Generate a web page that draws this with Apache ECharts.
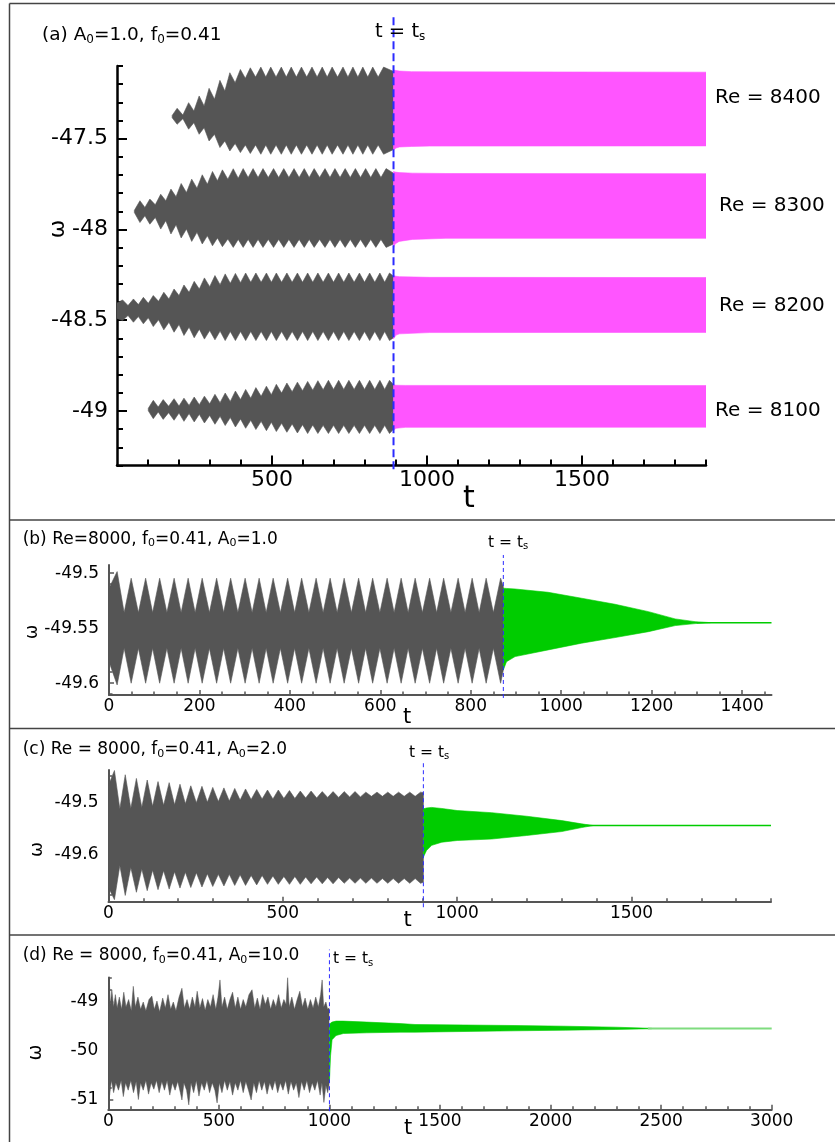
<!DOCTYPE html>
<html><head><meta charset="utf-8">
<script src="https://cdn.jsdelivr.net/npm/echarts@6.0.0/dist/echarts.min.js"></script>
<style>html,body{margin:0;padding:0;background:#fff}#c{width:835px;height:1142px}</style>
</head><body><div id="c"></div>
<script>
// ---------------- DATA ----------------
const tsA = 892, tsB = 872, tsC = 903, tsD = 1000;
const reLabels = ['Re = 8400', 'Re = 8300', 'Re = 8200', 'Re = 8100'];

// lobe rows: [tip time, tip upper, tip lower, following waist upper, following waist lower]
const start8400 = [178, -47.372, -47.385];
const lobes8400 = [
[194,-47.333,-47.421,-47.370,-47.390],[231,-47.302,-47.448,-47.348,-47.412],[265,-47.265,-47.476,-47.320,-47.440],
[297,-47.223,-47.513,-47.283,-47.476],[332,-47.179,-47.549,-47.238,-47.513],[364,-47.137,-47.568,-47.192,-47.527],
[398,-47.119,-47.577,-47.168,-47.535],[430,-47.110,-47.582,-47.161,-47.535],[464,-47.106,-47.586,-47.161,-47.535],
[496,-47.106,-47.586,-47.161,-47.535],[530,-47.106,-47.586,-47.161,-47.535],[562,-47.106,-47.586,-47.161,-47.535],
[595,-47.106,-47.586,-47.161,-47.535],[629,-47.106,-47.586,-47.161,-47.535],[662,-47.106,-47.586,-47.161,-47.535],
[694,-47.106,-47.586,-47.161,-47.535],[729,-47.106,-47.586,-47.161,-47.535],[761,-47.106,-47.586,-47.161,-47.535],
[793,-47.106,-47.586,-47.161,-47.535],[825,-47.106,-47.586,-47.161,-47.535],[860,-47.106,-47.586,-47.130,-47.560]];
const start8300 = [56, -47.895, -47.907];
const lobes8300 = [
[74,-47.842,-47.962,-47.879,-47.925],[106,-47.833,-47.971,-47.864,-47.934],[141,-47.806,-47.998,-47.842,-47.952],
[174,-47.778,-48.025,-47.820,-47.974],[207,-47.747,-48.047,-47.797,-47.998],[241,-47.723,-48.066,-47.773,-48.016],
[275,-47.699,-48.080,-47.751,-48.035],[308,-47.681,-48.090,-47.732,-48.047],[340,-47.672,-48.095,-47.723,-48.053],
[375,-47.666,-48.099,-47.718,-48.055],[407,-47.665,-48.099,-47.714,-48.055],[439,-47.665,-48.099,-47.714,-48.055],
[471,-47.665,-48.099,-47.714,-48.055],[505,-47.665,-48.099,-47.714,-48.055],[538,-47.665,-48.099,-47.714,-48.055],
[571,-47.665,-48.099,-47.714,-48.055],[604,-47.665,-48.099,-47.714,-48.055],[636,-47.665,-48.099,-47.714,-48.055],
[671,-47.665,-48.099,-47.714,-48.055],[703,-47.665,-48.099,-47.714,-48.055],[736,-47.665,-48.099,-47.714,-48.055],
[769,-47.665,-48.099,-47.714,-48.055],[802,-47.665,-48.099,-47.714,-48.055],[835,-47.665,-48.099,-47.714,-48.055],
[868,-47.665,-48.099,-47.690,-48.080]];
const start8200 = [0, -48.405, -48.490];
const lobes8200 = [
[18,-48.388,-48.502,-48.419,-48.474],[53,-48.383,-48.511,-48.414,-48.480],[85,-48.374,-48.520,-48.407,-48.487],
[117,-48.364,-48.535,-48.396,-48.498],[151,-48.346,-48.553,-48.383,-48.511],[184,-48.328,-48.566,-48.364,-48.524],
[216,-48.306,-48.584,-48.346,-48.538],[249,-48.286,-48.597,-48.328,-48.549],[282,-48.267,-48.604,-48.315,-48.557],
[316,-48.254,-48.608,-48.304,-48.560],[349,-48.245,-48.612,-48.297,-48.562],[382,-48.242,-48.612,-48.293,-48.562],
[415,-48.240,-48.612,-48.291,-48.562],[448,-48.240,-48.612,-48.291,-48.562],[482,-48.240,-48.612,-48.291,-48.562],
[514,-48.240,-48.612,-48.291,-48.562],[548,-48.240,-48.612,-48.291,-48.562],[582,-48.240,-48.612,-48.291,-48.562],
[615,-48.240,-48.612,-48.291,-48.562],[648,-48.240,-48.612,-48.291,-48.562],[682,-48.240,-48.612,-48.291,-48.562],
[715,-48.240,-48.612,-48.291,-48.562],[748,-48.240,-48.612,-48.291,-48.562],[782,-48.240,-48.612,-48.291,-48.562],
[815,-48.240,-48.612,-48.291,-48.562],[848,-48.240,-48.612,-48.291,-48.562],[879,-48.240,-48.612,-48.258,-48.596]];
const start8100 = [101, -48.985, -48.999];
const lobes8100 = [
[117,-48.941,-49.042,-48.978,-49.005],[149,-48.937,-49.046,-48.974,-49.009],[184,-48.932,-49.051,-48.973,-49.011],
[216,-48.929,-49.057,-48.969,-49.014],[249,-48.923,-49.060,-48.965,-49.018],[282,-48.918,-49.066,-48.960,-49.024],
[316,-48.908,-49.073,-48.954,-49.029],[349,-48.901,-49.080,-48.947,-49.036],[382,-48.890,-49.088,-48.937,-49.044],
[415,-48.881,-49.095,-48.929,-49.051],[448,-48.871,-49.102,-48.919,-49.057],[482,-48.863,-49.108,-48.910,-49.062],
[514,-48.853,-49.113,-48.901,-49.068],[548,-48.846,-49.117,-48.894,-49.071],[582,-48.841,-49.121,-48.888,-49.075],
[615,-48.837,-49.124,-48.885,-49.077],[648,-48.833,-49.124,-48.883,-49.079],[682,-48.831,-49.124,-48.881,-49.079],
[715,-48.831,-49.124,-48.881,-49.079],[748,-48.831,-49.124,-48.881,-49.079],[782,-48.831,-49.124,-48.881,-49.079],
[815,-48.831,-49.124,-48.881,-49.079],[848,-48.831,-49.124,-48.881,-49.079],[879,-48.831,-49.124,-48.855,-49.100]];
// pink bands after t_s: [t, upper, lower]
const pink8400 = [[892,-47.1225,-47.562],[900,-47.125,-47.552],[911,-47.128,-47.546],[950,-47.131,-47.543],[1008,-47.132,-47.541],[1900,-47.134,-47.540]];
const pink8300 = [[892,-47.681,-48.102],[897,-47.684,-48.080],[910,-47.687,-48.066],[953,-47.690,-48.055],[1061,-47.692,-48.049],[1900,-47.693,-48.049]];
const pink8200 = [[892,-48.254,-48.602],[900,-48.258,-48.582],[911,-48.260,-48.575],[1008,-48.264,-48.568],[1900,-48.265,-48.567]];
const pink8100 = [[892,-48.856,-49.106],[900,-48.858,-49.095],[930,-48.859,-49.090],[1900,-48.860,-49.089]];

// panel (b)
const startB = [0, -49.5136, -49.5804];
const lobesB = [
[18,-49.4985,-49.6015,-49.5358,-49.5682],[49,-49.5045,-49.600,-49.5358,-49.5682],[81,-49.5045,-49.600,-49.5358,-49.5682],
[112,-49.5045,-49.600,-49.5358,-49.5682],[144,-49.5045,-49.600,-49.5358,-49.5682],[175,-49.5045,-49.600,-49.5358,-49.5682],
[206,-49.5045,-49.600,-49.5358,-49.5682],[238,-49.5045,-49.600,-49.5358,-49.5682],[269,-49.5045,-49.600,-49.5358,-49.5682],
[301,-49.5045,-49.600,-49.5358,-49.5682],[332,-49.5045,-49.600,-49.5358,-49.5682],[363,-49.5045,-49.600,-49.5358,-49.5682],
[395,-49.5045,-49.600,-49.5358,-49.5682],[426,-49.5045,-49.600,-49.5358,-49.5682],[458,-49.5045,-49.600,-49.5358,-49.5682],
[489,-49.5045,-49.600,-49.5358,-49.5682],[520,-49.5045,-49.600,-49.5358,-49.5682],[552,-49.5045,-49.600,-49.5358,-49.5682],
[583,-49.5045,-49.600,-49.5358,-49.5682],[615,-49.5045,-49.600,-49.5358,-49.5682],[646,-49.5045,-49.600,-49.5358,-49.5682],
[677,-49.5045,-49.600,-49.5358,-49.5682],[709,-49.5045,-49.600,-49.5358,-49.5682],[740,-49.5045,-49.600,-49.5358,-49.5682],
[772,-49.5045,-49.600,-49.5358,-49.5682],[803,-49.5045,-49.600,-49.5358,-49.5682],[834,-49.5045,-49.600,-49.5358,-49.5682],
[866,-49.5045,-49.600,-49.512,-49.588]];
const greenB = [[872,-49.5136,-49.5879],[879,-49.5138,-49.5804],[898,-49.5143,-49.5758],[971,-49.5173,-49.5697],[1045,-49.5227,-49.5636],
[1119,-49.5282,-49.5585],[1193,-49.5349,-49.5531],[1252,-49.5415,-49.5476],[1296,-49.5440,-49.5458],[1330,-49.5449,-49.5449]];
const tailB = [[1300,-49.5449],[1465,-49.5449]];

// panel (c)
const startC = [0, -49.468, -49.662];
const lobesC = [
[17,-49.440,-49.685,-49.513,-49.620],[48,-49.448,-49.677,-49.512,-49.624],[80,-49.455,-49.671,-49.510,-49.627],
[111,-49.458,-49.668,-49.508,-49.629],[142,-49.461,-49.666,-49.506,-49.630],[174,-49.463,-49.665,-49.505,-49.632],
[205,-49.466,-49.663,-49.503,-49.633],[236,-49.469,-49.662,-49.501,-49.634],[268,-49.470,-49.661,-49.500,-49.636],
[299,-49.472,-49.660,-49.499,-49.637],[331,-49.473,-49.659,-49.498,-49.637],[362,-49.474,-49.658,-49.496,-49.638],
[393,-49.475,-49.658,-49.495,-49.639],[425,-49.476,-49.657,-49.494,-49.639],[456,-49.477,-49.656,-49.494,-49.640],
[487,-49.477,-49.656,-49.493,-49.641],[519,-49.478,-49.656,-49.493,-49.641],[550,-49.479,-49.656,-49.492,-49.642],
[581,-49.479,-49.655,-49.492,-49.642],[613,-49.480,-49.655,-49.491,-49.643],[644,-49.480,-49.655,-49.491,-49.643],
[676,-49.480,-49.654,-49.490,-49.644],[707,-49.480,-49.654,-49.490,-49.644],[738,-49.481,-49.654,-49.489,-49.644],
[770,-49.481,-49.654,-49.489,-49.645],[801,-49.481,-49.654,-49.489,-49.645],[832,-49.481,-49.654,-49.489,-49.645],
[864,-49.481,-49.654,-49.489,-49.645],[895,-49.481,-49.654,-49.482,-49.652]];
const greenC = [[903,-49.5127,-49.6045],[912,-49.511,-49.5918],[927,-49.510,-49.582],[956,-49.512,-49.576],[1000,-49.5159,-49.5728],
[1099,-49.520,-49.570],[1199,-49.5267,-49.5633],[1300,-49.535,-49.5558],[1357,-49.5412,-49.5482],[1390,-49.5444,-49.5444]];
const tailC = [[1370,-49.5444],[1900,-49.5444]];

// panel (d): noisy envelope
const upperD = [[0,-49.0],[4,-48.47],[9,-49.05],[16,-48.75],[24,-49.1],[32,-48.85],[40,-49.12],[50,-48.9],[60,-49.15],[70,-48.8],
[80,-49.1],[92,-48.95],[104,-49.18],[113,-48.68],[122,-49.1],[134,-48.9],[146,-49.15],[158,-49.0],[170,-49.18],[184,-48.95],
[197,-48.88],[208,-49.15],[220,-48.98],[232,-49.2],[246,-48.92],[258,-49.12],[270,-48.85],[282,-49.15],[294,-49.0],[306,-49.18],
[320,-48.9],[333,-48.72],[344,-49.12],[356,-48.95],[368,-49.15],[380,-48.9],[392,-49.1],[402,-48.78],[414,-49.12],[426,-48.93],
[438,-49.17],[450,-48.95],[462,-49.1],[474,-48.85],[486,-49.15],[496,-48.9],[505,-48.55],[514,-49.1],[526,-48.9],[538,-49.15],
[550,-48.95],[562,-48.8],[574,-49.12],[586,-48.9],[598,-49.15],[610,-48.95],[622,-49.1],[636,-48.85],[650,-48.75],[662,-49.12],
[674,-48.92],[686,-49.15],[698,-48.85],[710,-49.05],[722,-48.9],[734,-49.15],[746,-48.95],[758,-49.1],[770,-48.85],[782,-49.12],
[794,-48.95],[804,-49.05],[811,-48.5],[818,-49.1],[830,-48.9],[842,-49.15],[854,-48.95],[866,-48.78],[878,-49.1],[890,-48.92],
[902,-49.15],[914,-48.95],[926,-49.12],[938,-48.9],[950,-49.1],[960,-48.85],[967,-48.55],[974,-49.1],[984,-49.0],[992,-49.15],[998,-49.12]];
const lowerD = [[0,-50.7],[6,-50.9],[14,-50.6],[24,-50.85],[34,-50.65],[46,-50.8],[58,-50.6],[68,-50.93],[78,-50.65],[90,-50.8],
[102,-50.6],[114,-50.85],[126,-50.62],[136,-50.99],[146,-50.65],[158,-50.8],[170,-50.6],[182,-50.88],[194,-50.65],[206,-50.78],
[218,-50.6],[230,-50.85],[242,-50.62],[254,-50.8],[266,-50.6],[278,-50.9],[290,-50.65],[302,-50.8],[314,-50.62],[326,-50.85],
[333,-51.0],[342,-50.65],[354,-50.8],[364,-51.1],[374,-50.65],[386,-50.85],[398,-50.6],[410,-50.92],[422,-50.65],[434,-50.8],
[446,-50.6],[458,-50.85],[470,-50.65],[482,-50.8],[492,-51.06],[502,-50.65],[514,-50.85],[526,-50.6],[538,-50.8],[550,-50.62],
[562,-50.9],[574,-50.65],[586,-50.8],[598,-50.6],[610,-50.85],[622,-50.62],[634,-50.8],[646,-51.0],[658,-50.65],[670,-50.85],
[682,-50.6],[694,-50.8],[706,-50.62],[718,-50.88],[730,-50.65],[742,-50.8],[754,-50.6],[766,-50.85],[778,-50.65],[790,-50.8],
[802,-50.6],[814,-50.88],[826,-50.62],[838,-50.8],[850,-50.65],[862,-50.95],[874,-50.62],[886,-50.8],[898,-50.6],[910,-50.85],
[922,-50.65],[934,-50.8],[946,-50.6],[958,-50.9],[966,-50.65],[975,-51.05],[984,-50.7],[992,-50.85],[998,-50.7]];
const greenD = [[1000,-49.47,-50.63],[1005,-49.43,-50.10],[1012,-49.41,-49.77],[1030,-49.39,-49.684],[1063,-49.39,-49.643],
[1168,-49.41,-49.629],[1319,-49.44,-49.616],[1387,-49.459,-49.616],[1839,-49.48,-49.588],[2066,-49.494,-49.575],
[2292,-49.514,-49.561],[2458,-49.537,-49.545]];
const tailD = [[2440,-49.541],[3000,-49.541]];

// dashed t = t_s lines
const dashA = [[tsA,-49.32],[tsA,-46.81]];
const dashB = [[tsB,-49.6134],[tsB,-49.4834]];
const dashC = [[tsC,-49.6994],[tsC,-49.4243]];
const dashD = [[tsD,-51.229],[tsD,-47.93]];

// tick values
const aXLabels = [500,1000,1500];
const aXMinor = [100,200,300,400,600,700,800,900,1100,1200,1300,1400,1600,1700,1800,1900];
const aYLabels = [-49,-48.5,-48,-47.5];
const aYMinor = [-49.3,-49.2,-49.1,-48.9,-48.8,-48.7,-48.6,-48.4,-48.3,-48.2,-48.1,-47.9,-47.8,-47.7,-47.6,-47.4,-47.3,-47.2,-47.1];
const bXLabels = [0,200,400,600,800,1000,1200,1400];
const bXMinor = [50,100,150,250,300,350,450,500,550,650,700,750,850,900,950,1050,1100,1150,1250,1300,1350,1450];
const bYLabels = [-49.6,-49.55,-49.5];
const bYMinor = [-49.61,-49.59,-49.58,-49.57,-49.56,-49.54,-49.53,-49.52,-49.51];
const cXLabels = [0,500,1000,1500];
const cXMinor = [100,200,300,400,600,700,800,900,1100,1200,1300,1400,1600,1700,1800,1900];
const cYLabels = [-49.6,-49.5];
const cYMinor = [-49.675,-49.65,-49.625,-49.575,-49.55,-49.525,-49.475,-49.45];
const dXLabels = [0,500,1000,1500,2000,2500,3000];
const dXMinor = [100,200,300,400,600,700,800,900,1100,1200,1300,1400,1600,1700,1800,1900,2100,2200,2300,2400,2600,2700,2800,2900];
const dYLabels = [-51,-50,-49];
const dYMinor = [-50.75,-50.5,-50.25,-49.75,-49.5,-49.25,-48.75,-48.5];

// ---------------- BUILD ----------------
const FONT = 'DejaVu Sans';
const DARK = '#555555', PINK = '#ff55ff', GREEN = '#00cc00', BLUE = '#2b2bff';

function lobeBand(start, rows, endT) {
  const up = [[start[0], start[1]]], lo = [[start[0], start[2]]];
  rows.forEach(function (r, i) {
    up.push([r[0], r[1]]); lo.push([r[0], r[2]]);
    const wt = i < rows.length - 1 ? (r[0] + rows[i + 1][0]) / 2 : endT;
    up.push([wt, r[3]]); lo.push([wt, r[4]]);
  });
  return [up, lo];
}
function rowBand(rows) { return [rows.map(r => [r[0], r[1]]), rows.map(r => [r[0], r[2]])]; }
function bandSeries(g, band, color, sw) {
  const pts = band[0].concat(band[1].slice().reverse());
  return {
    type: 'custom', xAxisIndex: 2 * g, yAxisIndex: 2 * g, clip: true, silent: true, animation: false, z: 2,
    data: [pts[0]],
    renderItem: function (params, api) {
      return { type: 'polygon', shape: { points: pts.map(p => api.coord(p)) },
        style: { fill: color, stroke: color, lineWidth: sw == null ? 0.6 : sw } };
    }
  };
}
function lineSeries(g, data, color, width, dash, z) {
  return { type: 'line', xAxisIndex: 2 * g, yAxisIndex: 2 * g, data: data, symbol: 'none', silent: true,
    animation: false, clip: false, z: z || 3,
    lineStyle: { color: color, width: width, type: dash || 'solid' } };
}
function axisPair(dim, g, min, max, labels, minor, o) {
  const base = { gridIndex: g, type: 'value', min: min, max: max, position: dim === 'x' ? 'bottom' : 'left',
    splitLine: { show: false }, axisPointer: { show: false } };
  const major = Object.assign({}, base, {
    axisLine: { show: true, onZero: false, lineStyle: { color: o.color, width: o.lw } },
    axisTick: { show: true, inside: true, length: o.major, customValues: labels, lineStyle: { color: o.color, width: o.tw } },
    axisLabel: { show: true, customValues: labels, color: '#000', fontFamily: FONT, fontSize: o.fs, margin: o.margin,
      formatter: function (v) { return String(v); } }
  });
  const mn = Object.assign({}, base, {
    axisLine: { show: false, onZero: false },
    axisTick: { show: true, inside: true, length: o.minor, customValues: minor, lineStyle: { color: o.color, width: o.tw } },
    axisLabel: { show: false }
  });
  return [major, mn];
}
const oAx = { color: '#000', lw: 2.5, tw: 2, major: 10, minor: 6, fs: 22, margin: 4 };
const oAy = Object.assign({}, oAx, { margin: 9 });
const oSx = { color: '#555', lw: 2, tw: 1.5, major: 5, minor: 3.5, fs: 17, margin: 3 };
const oSy = Object.assign({}, oSx, { margin: 10 });

const grids = [
  { left: 117, top: 66, width: 589, height: 399.5 },
  { left: 109, top: 565, width: 662.5, height: 130 },
  { left: 108.5, top: 770, width: 662.5, height: 131.75 },
  { left: 108.3, top: 977.5, width: 663.4, height: 132.3 }
].map(g => Object.assign({ outerBoundsMode: 'none', containLabel: false }, g));

const xAxes = [].concat(
  axisPair('x', 0, 0, 1900, aXLabels, aXMinor, oAx),
  axisPair('x', 1, 0, 1465, bXLabels, bXMinor, oSx),
  axisPair('x', 2, 0, 1900, cXLabels, cXMinor, oSx),
  axisPair('x', 3, 0, 3000, dXLabels, dXMinor, oSx));
const yAxes = [].concat(
  axisPair('y', 0, -49.3, -47.1, aYLabels, aYMinor, oAy),
  axisPair('y', 1, -49.6107, -49.4925, bYLabels, bYMinor, oSy),
  axisPair('y', 2, -49.689, -49.439, cYLabels, cYMinor, oSy),
  axisPair('y', 3, -51.2, -48.5, dYLabels, dYMinor, oSy));

const series = [
  bandSeries(0, lobeBand(start8400, lobes8400, tsA), DARK),
  bandSeries(0, lobeBand(start8300, lobes8300, tsA), DARK),
  bandSeries(0, lobeBand(start8200, lobes8200, tsA), DARK),
  bandSeries(0, lobeBand(start8100, lobes8100, tsA), DARK),
  bandSeries(0, rowBand(pink8400), PINK),
  bandSeries(0, rowBand(pink8300), PINK),
  bandSeries(0, rowBand(pink8200), PINK),
  bandSeries(0, rowBand(pink8100), PINK),
  lineSeries(0, dashA, BLUE, 2, [8, 4], 5),
  bandSeries(1, lobeBand(startB, lobesB, tsB), DARK),
  bandSeries(1, rowBand(greenB), GREEN),
  lineSeries(1, tailB, GREEN, 1.5),
  lineSeries(1, dashB, BLUE, 1, [4, 3], 5),
  bandSeries(2, lobeBand(startC, lobesC, tsC), DARK),
  bandSeries(2, rowBand(greenC), GREEN),
  lineSeries(2, tailC, GREEN, 1.5),
  lineSeries(2, dashC, BLUE, 1, [4, 3], 5),
  bandSeries(3, [upperD, lowerD], DARK, 0.5),
  bandSeries(3, rowBand(greenD), GREEN),
  lineSeries(3, tailD, '#7fdc7f', 2),
  lineSeries(3, dashD, BLUE, 1, [4, 3], 5)
];

function richText(x, y, parts, size, subSize, subPad) {
  let s = '';
  parts.forEach(function (p, i) { s += (i % 2 === 0 ? '{m|' : '{s|') + p + '}'; });
  return { type: 'text', x: x, y: y, z: 10, silent: true,
    style: { text: s, align: 'left', verticalAlign: 'middle', fill: '#000',
      fontFamily: FONT, fontSize: size,
      rich: { m: { fontSize: size, fontFamily: FONT, fill: '#000' },
              s: { fontSize: subSize, fontFamily: FONT, fill: '#000', padding: [subPad, 0, 0, 0] } } } };
}
function plain(x, y, text, size, align, rot) {
  return { type: 'text', x: x, y: y, z: 10, silent: true, rotation: rot || 0,
    style: { text: text, align: align || 'left', verticalAlign: 'middle', fill: '#000', fontFamily: FONT, fontSize: size } };
}
function hline(x1, y1, x2, y2) {
  return { type: 'line', silent: true, z: 10, shape: { x1: x1, y1: y1, x2: x2, y2: y2 }, style: { stroke: '#444', lineWidth: 1.5 } };
}
const graphic = [
  hline(9.5, 3.5, 835, 3.5), hline(9.5, 3.5, 9.5, 1142), hline(9.5, 520, 835, 520),
  hline(9.5, 728.5, 835, 728.5), hline(9.5, 935, 835, 935),
  richText(42, 35, ['(a) A', '0', '=1.0, f', '0', '=0.41'], 18.5, 12, 9),
  richText(22.7, 539.5, ['(b) Re=8000, f', '0', '=0.41, A', '0', '=1.0'], 17, 11, 8),
  richText(22.7, 750, ['(c) Re = 8000, f', '0', '=0.41, A', '0', '=2.0'], 17, 11, 8),
  richText(22.7, 956, ['(d) Re = 8000, f', '0', '=0.41, A', '0', '=10.0'], 17, 11, 8),
  richText(375, 32, ['t = t', 's'], 19.5, 12, 10),
  richText(488, 542.5, ['t = t', 's'], 15.5, 10, 8),
  richText(409, 752.5, ['t = t', 's'], 15.5, 10, 8),
  richText(333, 959, ['t = t', 's'], 15.5, 10, 8),
  plain(715, 98, reLabels[0], 20), plain(719, 205.5, reLabels[1], 20),
  plain(719, 306, reLabels[2], 20), plain(715, 410.5, reLabels[3], 20),
  plain(58.5, 229, 'ω', 22, 'center', Math.PI / 2),
  plain(32.5, 632, 'ω', 17, 'center', Math.PI / 2),
  plain(37, 849.5, 'ω', 18, 'center', Math.PI / 2),
  plain(36, 1052.5, 'ω', 19, 'center', Math.PI / 2),
  plain(469, 499, 't', 30, 'center'),
  plain(407, 718, 't', 21, 'center'),
  plain(407.5, 920.5, 't', 21, 'center'),
  plain(408, 1128.5, 't', 21, 'center')
];

const chart = echarts.init(document.getElementById('c'), null, { renderer: 'canvas' });
chart.setOption({
  animation: false, backgroundColor: '#fff',
  grid: grids, xAxis: xAxes, yAxis: yAxes, series: series, graphic: graphic
});
</script></body></html>
